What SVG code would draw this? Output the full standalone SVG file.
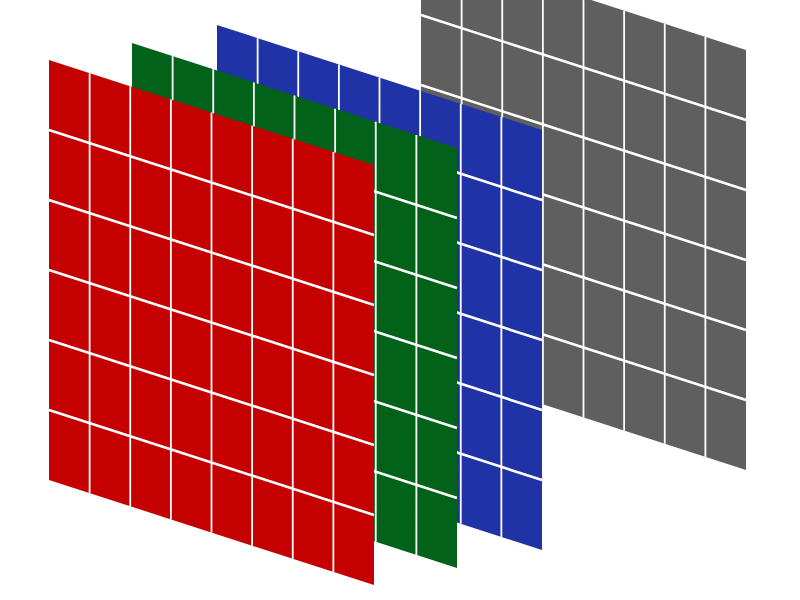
<svg xmlns="http://www.w3.org/2000/svg" xmlns:xlink="http://www.w3.org/1999/xlink" width="800" height="600" viewBox="0 0 800 600">
  <style>
    .plane { stroke: none; }
    .vgrid { fill: none; stroke: #ffffff; stroke-width: 1.8; }
    .hgrid { fill: none; stroke: #ffffff; stroke-width: 2.6; }
    .gray { fill: #5f5f5f; }
    .blue { fill: #1f33a6; }
    .green { fill: #02621a; }
    .red { fill: #c40000; }
  </style>
  <defs>
    <polygon id="plane" points="0,0 325,105 325,525 0,420"/>
    <path id="vlines" d="M40.625,13.125 V433.125 M81.25,26.25 V446.25 M121.875,39.375 V459.375 M162.5,52.5 V472.5 M203.125,65.625 V485.625 M243.75,78.75 V498.75 M284.375,91.875 V511.875"/>
    <path id="hlines" d="M0,70 L325,175 M0,140 L325,245 M0,210 L325,315 M0,280 L325,385 M0,350 L325,455"/>
  </defs>
  <rect width="800" height="600" fill="#ffffff"/>
  <g id="layer-gray" transform="translate(421,-55)">
    <use xlink:href="#plane" href="#plane" class="plane gray"/>
    <use xlink:href="#vlines" href="#vlines" class="vgrid"/>
    <use xlink:href="#hlines" href="#hlines" class="hgrid"/>
  </g>
  <g id="layer-blue" transform="translate(217,25)">
    <use xlink:href="#plane" href="#plane" class="plane blue"/>
    <use xlink:href="#vlines" href="#vlines" class="vgrid"/>
    <use xlink:href="#hlines" href="#hlines" class="hgrid"/>
  </g>
  <g id="layer-green" transform="translate(132,43)">
    <use xlink:href="#plane" href="#plane" class="plane green"/>
    <use xlink:href="#vlines" href="#vlines" class="vgrid"/>
    <use xlink:href="#hlines" href="#hlines" class="hgrid"/>
  </g>
  <g id="layer-red" transform="translate(49,60)">
    <use xlink:href="#plane" href="#plane" class="plane red"/>
    <use xlink:href="#vlines" href="#vlines" class="vgrid"/>
    <use xlink:href="#hlines" href="#hlines" class="hgrid"/>
  </g>
  <g id="connectors"/>
</svg>
